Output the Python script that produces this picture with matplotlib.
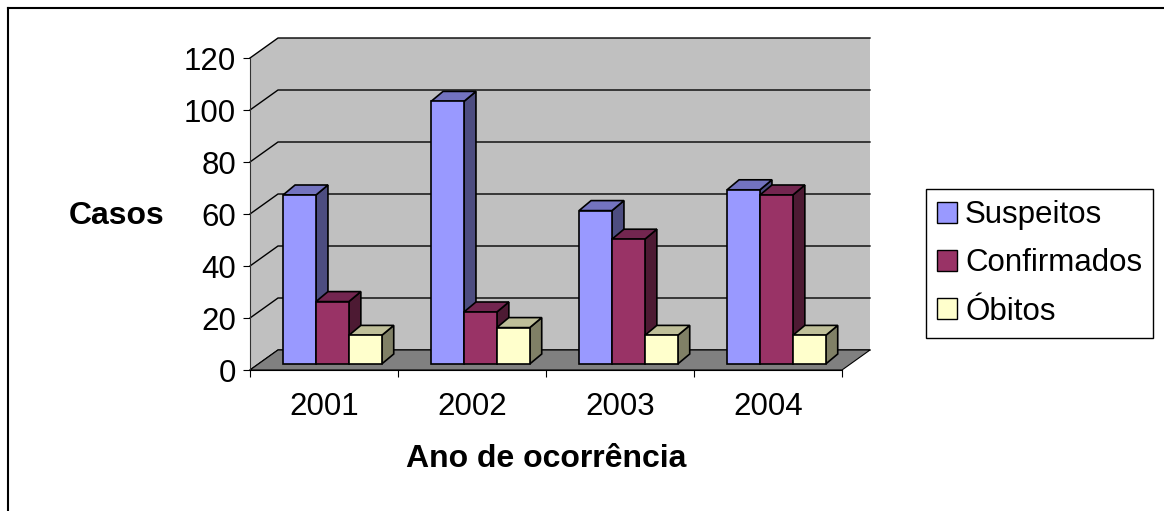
import matplotlib
matplotlib.use("Agg")
import matplotlib.pyplot as plt
from matplotlib.patches import Polygon, Rectangle, Patch
from matplotlib.lines import Line2D

plt.rcParams['font.family'] = ['Liberation Sans', 'DejaVu Sans']

# Dados
anos = ["2001", "2002", "2003", "2004"]
series = ["Suspeitos", "Confirmados", "Óbitos"]
suspeitos = [65, 101, 59, 67]
confirmados = [24, 20, 48, 65]
obitos = [11, 14, 11, 11]
valores = [suspeitos, confirmados, obitos]
y_ticks = [0, 20, 40, 60, 80, 100, 120]

# cores: frente, topo, lateral
cores = [
    ("#9999FF", "#7373BF", "#4D4D80"),
    ("#993366", "#732650", "#4D1A33"),
    ("#FFFFCC", "#BFBF99", "#808066"),
]

W, H = 1164, 511
fig = plt.figure(figsize=(W / 100, H / 100), dpi=100)
ax = fig.add_axes([250 / W, 1 - 370 / H, 592 / W, 312 / H])
ymax = 120
n = len(anos)
ax.set_xlim(0, n)
ax.set_ylim(0, ymax)

# profundidade (em unidades de dados)
px_x = 592 / n
px_y = 312 / ymax
Dx, Dy = 28 / px_x, 20 / px_y          # profundidade da parede
bx, by = 8.4 / px_x, 6 / px_y          # plano frontal das barras
ddx, ddy = 12 / px_x, 10 / px_y        # profundidade das barras

kw = dict(clip_on=False)
# paredes
ax.add_patch(Polygon([(0, 0), (Dx, Dy), (Dx, ymax + Dy), (0, ymax)],
                     closed=True, facecolor="#C0C0C0", edgecolor="none", zorder=0, **kw))
ax.add_patch(Polygon([(Dx, Dy), (n + Dx, Dy), (n + Dx, ymax + Dy), (Dx, ymax + Dy)],
                     closed=True, facecolor="#C0C0C0", edgecolor="none", zorder=0, **kw))
# grades
for v in y_ticks:
    ax.plot([0, Dx, n + Dx], [v, v + Dy, v + Dy], color="black", lw=1, zorder=0.5, **kw)
# piso
ax.add_patch(Polygon([(0, 0), (n, 0), (n + Dx, Dy), (Dx, Dy)], closed=True,
                     facecolor="#808080", edgecolor="black", lw=0.8, zorder=1, **kw))

# barras 3D
gap = 1.5
w = 1 / (len(series) + gap)
for i in range(n):
    for j in range(len(series)):
        v = valores[j][i]
        frente, topo, lado = cores[j]
        x0 = i + gap * w / 2 + j * w + bx
        y0 = by
        y1 = by + v
        ax.add_patch(Polygon([(x0 + w, y0), (x0 + w + ddx, y0 + ddy),
                              (x0 + w + ddx, y1 + ddy), (x0 + w, y1)], closed=True,
                             facecolor=lado, edgecolor="black", lw=1.2, zorder=3, **kw))
        ax.add_patch(Polygon([(x0, y1), (x0 + w, y1), (x0 + w + ddx, y1 + ddy),
                              (x0 + ddx, y1 + ddy)], closed=True,
                             facecolor=topo, edgecolor="black", lw=1.2, zorder=3, **kw))
        ax.add_patch(Rectangle((x0, y0), w, v, facecolor=frente, edgecolor="black",
                               lw=1.2, zorder=3, **kw))

# eixos
for s in ["top", "right"]:
    ax.spines[s].set_visible(False)
ax.spines["left"].set_color("#333333")
ax.spines["bottom"].set_color("black")
ax.set_facecolor("none")
ax.set_yticks(y_ticks)
ax.tick_params(axis="y", labelsize=22.5, length=5, pad=5)
ax.set_xticks(range(n + 1))
ax.set_xticklabels([""] * (n + 1))
ax.set_xticks([i + 0.5 for i in range(n)], minor=True)
ax.set_xticklabels(anos, minor=True)
ax.tick_params(axis="x", which="major", length=5)
ax.tick_params(axis="x", which="minor", length=0, labelsize=22.5, pad=16)

fig.text(117 / W, 1 - 216 / H, "Casos", fontsize=23, fontweight="bold",
         ha="center", va="center")
fig.text(546 / W, 1 - 459 / H, "Ano de ocorrência", fontsize=23, fontweight="bold",
         ha="center", va="center")

handles = [Patch(facecolor=c[0], edgecolor="black", lw=1) for c in cores]
leg = ax.legend(handles, series, loc="upper left", bbox_to_anchor=(926 / W, 1 - 189 / H),
                bbox_transform=fig.transFigure, fontsize=22.5, frameon=True, fancybox=False,
                edgecolor="black", framealpha=1, handlelength=0.64, handleheight=0.64,
                handletextpad=0.25, labelspacing=0.58, borderpad=0.36, borderaxespad=0)
leg.get_frame().set_linewidth(1)

# borda externa
fig.add_artist(Line2D([8 / W, 8 / W], [0, 1 - 8 / H], color="black", lw=1.5))
fig.add_artist(Line2D([8 / W, 1], [1 - 8 / H, 1 - 8 / H], color="black", lw=1.5))

fig.savefig("out.png", dpi=100, facecolor="white")
